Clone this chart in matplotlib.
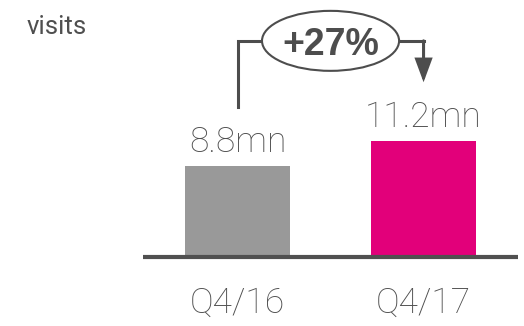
import matplotlib
matplotlib.use("Agg")
import matplotlib.pyplot as plt
from matplotlib.patches import Ellipse

# quarterly visits, in millions
quarters = ["Q4/16", "Q4/17"]
visits = [8.8, 11.2]
value_labels = ["8.8mn", "11.2mn"]
growth_label = "+27%"
bar_colors = ["#999999", "#E2007A"]

text_color = "#4f4f4f"
line_color = "#4d4d4d"

fig = plt.figure(figsize=(5.24, 3.26), dpi=100)
ax = fig.add_axes([0, 0, 1, 1])
ax.set_xlim(-1.277, 1.540)
ax.set_ylim(-6.67, 24.85)
ax.axis("off")

x = list(range(len(quarters)))
ax.bar(x, visits, width=0.565, color=bar_colors, zorder=2)
ax.hlines(0, -0.51, 1.51, color="#505050", linewidth=3, zorder=3)

light = dict(family=["Roboto", "DejaVu Sans"], fontweight="light", color=text_color)

for i, (v, lab) in enumerate(zip(visits, value_labels)):
    ax.annotate(lab, (i, v), xytext=(0, 10), textcoords="offset points",
                ha="center", va="baseline", fontsize=25.5, **light)
    ax.annotate(quarters[i], (i, 0), xytext=(0, -40), textcoords="offset points",
                ha="center", va="baseline", fontsize=25.5, **light)

fig.text(27 / 524, 1 - 34 / 326, "visits", fontsize=18.5, family=["Roboto", "DejaVu Sans"],
         color=text_color, ha="left", va="baseline")

# growth bracket from the first bar to the second
top = max(visits) + 9.7
start = visits[0] + 5.7
tip = visits[1] + 5.7
ax.plot([0, 0, 1], [start, top, top], color=line_color, linewidth=2.2,
        solid_joinstyle="miter", zorder=4)
ax.annotate("", xy=(1, tip), xytext=(1, top),
            arrowprops=dict(arrowstyle="-|>,head_length=1.35,head_width=0.5",
                            mutation_scale=10, color=line_color, linewidth=2.2,
                            shrinkA=0, shrinkB=0, joinstyle="miter"),
            zorder=4)
ax.add_patch(Ellipse((0.5, top), 0.737, 5.8, facecolor="white",
                     edgecolor=line_color, linewidth=1.5, zorder=5))
ax.text(0.5, top, growth_label, ha="center", va="center_baseline", fontsize=27,
        fontweight="bold", family=["Liberation Sans", "DejaVu Sans"],
        color=line_color, zorder=6)

fig.savefig("out.png", dpi=100)
